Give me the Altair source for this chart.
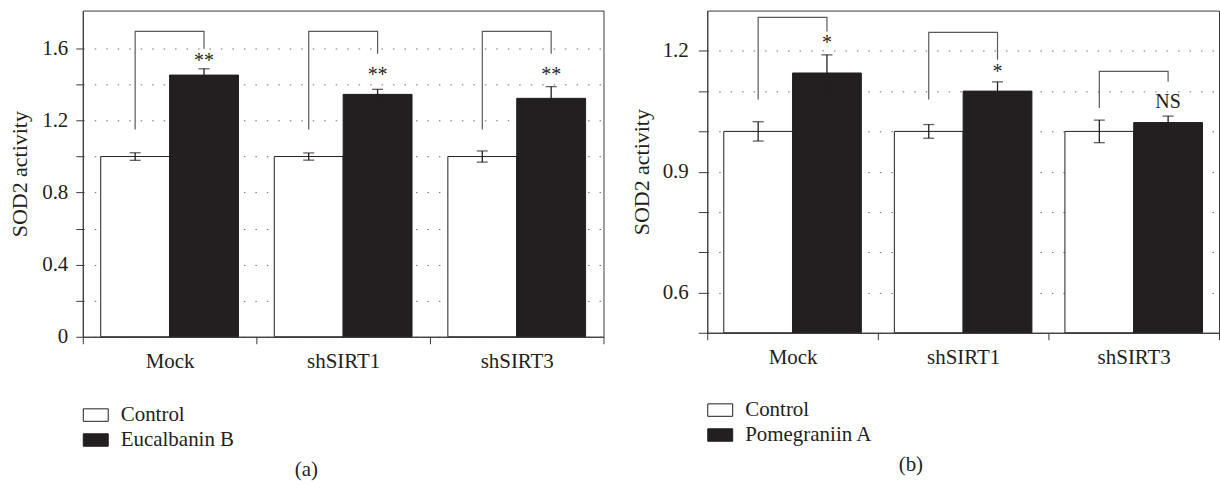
import altair as alt
import pandas as pd

INK = "#231f20"
AXIS = "#3a3a3a"
BRACKET = "#5a5a5a"
GRID = "#6e6e6e"
FONT = "Liberation Serif"
FS = 21

groups = ["Mock", "shSIRT1", "shSIRT3"]

# ---- Panel (a) ----
a_treatments = ["Control", "Eucalbanin B"]
a_ctrl_mean = [1.0, 1.0, 1.0]
a_ctrl_err = [0.021, 0.02, 0.031]
a_trt_mean = [1.452, 1.345, 1.323]
a_trt_err = [0.035, 0.028, 0.065]
a_sig = ["**", "**", "**"]
a_sig_y = [1.531, 1.454, 1.454]
a_br_top = [1.695, 1.695, 1.695]
a_br_left = [1.15, 1.15, 1.15]
a_br_right = [1.598, 1.57, 1.57]
a_ticks = [0, 0.2, 0.4, 0.6, 0.8, 1.0, 1.2, 1.4, 1.6]
a_labels = ["0", "", "0.4", "", "0.8", "", "1.2", "", "1.6"]

# ---- Panel (b) ----
b_treatments = ["Control", "Pomegraniin A"]
b_ctrl_mean = [1.0, 1.0, 1.0]
b_ctrl_err = [0.024, 0.017, 0.028]
b_trt_mean = [1.145, 1.100, 1.022]
b_trt_err = [0.045, 0.023, 0.016]
b_sig = ["*", "*", "NS"]
b_sig_y = [1.219, 1.147, 1.074]
b_br_top = [1.283, 1.246, 1.149]
b_br_left = [1.079, 1.079, 1.058]
b_br_right = [1.248, 1.178, 1.123]
b_ticks = [0.5, 0.6, 0.7, 0.8, 0.9, 1.0, 1.1, 1.2]
b_labels = ["", "0.6", "", "", "0.9", "", "", "1.2"]


def label_expr(ticks, labels):
    vals = "[" + ",".join(repr(t) for t in ticks) + "]"
    labs = "[" + ",".join("'" + l + "'" for l in labels) + "]"
    return f"{labs}[indexof({vals}, datum.value)]"


def panel(treatments, ctrl_mean, ctrl_err, trt_mean, trt_err, sig, sig_y,
          br_top, br_left, br_right, ydomain, ticks, labels, width, height,
          pad_outer, tick_size, label_pad, title_pad, legend_y, caption,
          caption_offset, caption_dx):
    rows, caps, br, sg = [], [], [], []
    for i, g in enumerate(groups):
        for t, m, e in ((treatments[0], ctrl_mean[i], ctrl_err[i]),
                        (treatments[1], trt_mean[i], trt_err[i])):
            rows.append(dict(group=g, treatment=t, mean=m, lo=m - e, hi=m + e))
            caps.append(dict(group=g, treatment=t, v=m - e))
            caps.append(dict(group=g, treatment=t, v=m + e))
        br += [
            dict(group=g, treatment=treatments[0], v=br_left[i], k=0),
            dict(group=g, treatment=treatments[0], v=br_top[i], k=1),
            dict(group=g, treatment=treatments[1], v=br_top[i], k=2),
            dict(group=g, treatment=treatments[1], v=br_right[i], k=3),
        ]
        sg.append(dict(group=g, treatment=treatments[1], v=sig_y[i], s=sig[i]))
    df = pd.DataFrame(rows)
    caps_df = pd.DataFrame(caps)
    br_df = pd.DataFrame(br)
    sg_df = pd.DataFrame(sg)

    xscale = alt.Scale(domain=groups, paddingInner=0, paddingOuter=0)
    oscale = alt.Scale(domain=treatments, paddingInner=0, paddingOuter=pad_outer)
    yscale = alt.Scale(domain=ydomain, nice=False, zero=False)

    xaxis = alt.Axis(title=None, tickBand="extent", tickSize=7, labelAngle=0,
                     labelFont=FONT, labelFontSize=FS, labelColor=INK,
                     labelPadding=7, domainColor=AXIS, tickColor=AXIS,
                     grid=False)
    yaxis = alt.Axis(title="SOD2 activity", values=ticks,
                     labelExpr=label_expr(ticks, labels),
                     tickSize=tick_size, labelPadding=label_pad,
                     titlePadding=title_pad, labelFont=FONT, labelFontSize=FS,
                     labelColor=INK, titleFont=FONT, titleFontSize=22,
                     titleFontWeight="normal", titleColor=INK,
                     domainColor=AXIS, tickColor=AXIS, grid=True,
                     gridDash=[1.5, 10], gridColor=GRID, gridWidth=1,
                     zindex=0)

    def X():
        return alt.X("group:N", scale=xscale, axis=xaxis)

    def XO():
        return alt.XOffset("treatment:N", scale=oscale)

    def Y(field):
        return alt.Y(field, scale=yscale, axis=yaxis)

    bars = alt.Chart(df).mark_bar(stroke=INK, strokeWidth=1).encode(
        x=X(), xOffset=XO(), y=Y("mean:Q"),
        y2=alt.datum(ydomain[0]),
        color=alt.Color(
            "treatment:N",
            scale=alt.Scale(domain=treatments, range=["#ffffff", INK]),
            legend=alt.Legend(
                title=None, orient="none", legendX=0, legendY=legend_y,
                direction="vertical", symbolType="M-1,-0.5H1V0.5H-1Z",
                symbolSize=625, symbolStrokeColor=INK, symbolStrokeWidth=1,
                labelFont=FONT, labelFontSize=FS, labelColor=INK,
                labelOffset=12, rowPadding=2, padding=0),
        ),
    )
    err = alt.Chart(df).mark_rule(color=INK, strokeWidth=1.3).encode(
        x=X(), xOffset=XO(), y=Y("lo:Q"), y2="hi:Q",
    )
    cap = alt.Chart(caps_df).mark_tick(color=INK, size=11, thickness=1.3,
                                       orient="horizontal").encode(
        x=X(), xOffset=XO(), y=Y("v:Q"),
    )
    bracket = alt.Chart(br_df).mark_line(color=BRACKET, strokeWidth=1.2).encode(
        x=X(), xOffset=XO(), y=Y("v:Q"),
        detail="group:N", order="k:Q",
    )
    stars = alt.Chart(sg_df).mark_text(font=FONT, fontSize=20, color=INK,
                                       baseline="middle").encode(
        x=X(), xOffset=XO(), y=Y("v:Q"), text="s:N",
    )
    return alt.layer(bars, err, cap, bracket, stars).properties(
        width=width, height=height,
        title=alt.TitleParams(text=caption, orient="bottom", anchor="middle",
                              frame="bounds", font=FONT, fontSize=FS,
                              fontWeight="normal", color=INK,
                              offset=caption_offset, dx=caption_dx),
    )


pa = panel(a_treatments, a_ctrl_mean, a_ctrl_err, a_trt_mean, a_trt_err,
           a_sig, a_sig_y, a_br_top, a_br_left, a_br_right, [0, 1.81],
           a_ticks, a_labels, 522, 327, 0.26, 7, 8, 10, 392.5, "(a)", 9, 0)
pb = panel(b_treatments, b_ctrl_mean, b_ctrl_err, b_trt_mean, b_trt_err,
           b_sig, b_sig_y, b_br_top, b_br_left, b_br_right, [0.5, 1.3],
           b_ticks, b_labels, 513, 323, 0.24, 9, 10, 9, 387.5, "(b)", 9, -14)

chart = alt.hconcat(pa, pb, spacing=25).resolve_scale(
    color="independent", x="independent", y="independent",
    xOffset="independent",
).properties(
    padding={"left": 8, "top": 9, "right": 0, "bottom": 0},
    background="white",
).configure_view(stroke=AXIS, strokeWidth=1)

chart.save("out.html", embed_options={"renderer": "svg", "actions": False})
